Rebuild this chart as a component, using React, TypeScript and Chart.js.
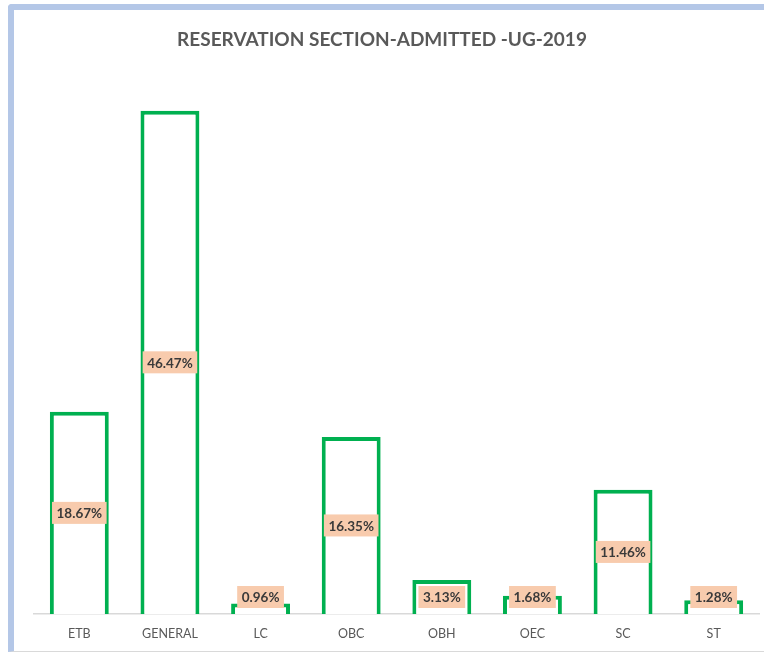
import React, { useEffect, useRef } from "react";
import { Chart, registerables } from "chart.js";

Chart.register(...registerables);

const categories: string[] = ["ETB", "GENERAL", "LC", "OBC", "OBH", "OEC", "SC", "ST"];
const shares: number[] = [18.67, 46.47, 0.96, 16.35, 3.13, 1.68, 11.46, 1.28];
const chartTitle = "RESERVATION SECTION-ADMITTED -UG-2019";
const yMax = 50;

const FONT = "Lato, 'Open Sans', sans-serif";

const titlePlugin = {
  id: "pageTitle",
  afterDraw(chart: any) {
    const ctx = chart.ctx;
    ctx.save();
    ctx.font = `bold 19px ${FONT}`;
    ctx.fillStyle = "#595959";
    ctx.textAlign = "center";
    ctx.textBaseline = "middle";
    ctx.fillText(chartTitle, chart.width / 2 - 7, 30);
    ctx.restore();
  },
};

const labelPlugin = {
  id: "centerLabels",
  afterDatasetsDraw(chart: any) {
    const ctx = chart.ctx;
    const meta = chart.getDatasetMeta(0);
    ctx.save();
    ctx.font = `bold 13.5px ${FONT}`;
    ctx.textAlign = "center";
    ctx.textBaseline = "middle";
    meta.data.forEach((bar: any, i: number) => {
      const text = shares[i].toFixed(2) + "%";
      const props = bar.getProps(["x", "y", "base"], true);
      const mid = (props.y + props.base) / 2;
      const cy = Math.min(mid, props.base - 17);
      const w = ctx.measureText(text).width + 9;
      const h = 22;
      ctx.fillStyle = "#F8CBAD";
      ctx.fillRect(props.x - w / 2, cy - h / 2, w, h);
      ctx.fillStyle = "#3A3A3A";
      ctx.fillText(text, props.x, cy + 1);
    });
    ctx.restore();
  },
};

export default function App() {
  const ref = useRef<HTMLCanvasElement | null>(null);
  useEffect(() => {
    if (!ref.current) return;
    const chart = new Chart(ref.current, {
      type: "bar",
      data: {
        labels: categories,
        datasets: [
          {
            data: shares,
            backgroundColor: "#FFFFFF",
            borderColor: "#00B050",
            borderWidth: 4,
            borderSkipped: "bottom",
            barPercentage: 0.65,
            categoryPercentage: 1,
          },
        ],
      },
      options: {
        animation: false,
        responsive: false,
        maintainAspectRatio: false,
        layout: { padding: { left: 20, right: 5, top: 62.4, bottom: -2 } },
        plugins: {
          legend: { display: false },
          tooltip: { enabled: false },
          title: { display: false },
        },
        scales: {
          x: {
            grid: { display: false, drawTicks: false },
            border: { display: true, color: "#D9D9D9", width: 1.5 },
            ticks: { color: "#595959", font: { family: FONT, size: 12.5 }, padding: 12 },
          },
          y: {
            display: false,
            min: 0,
            max: yMax,
          },
        },
      },
      plugins: [labelPlugin, titlePlugin],
    });
    return () => chart.destroy();
  }, []);

  return (
    <div
      style={{
        position: "fixed",
        left: 8,
        top: 4,
        width: 750,
        height: 641,
        borderTop: "6px solid #B4C7E7",
        borderLeft: "6px solid #B4C7E7",
        borderBottom: "1px solid #D9D9D9",
        borderTopLeftRadius: 4,
        background: "#FFFFFF",
      }}
    >
      <canvas ref={ref} width={750} height={641} style={{ display: "block" }} />
    </div>
  );
}
